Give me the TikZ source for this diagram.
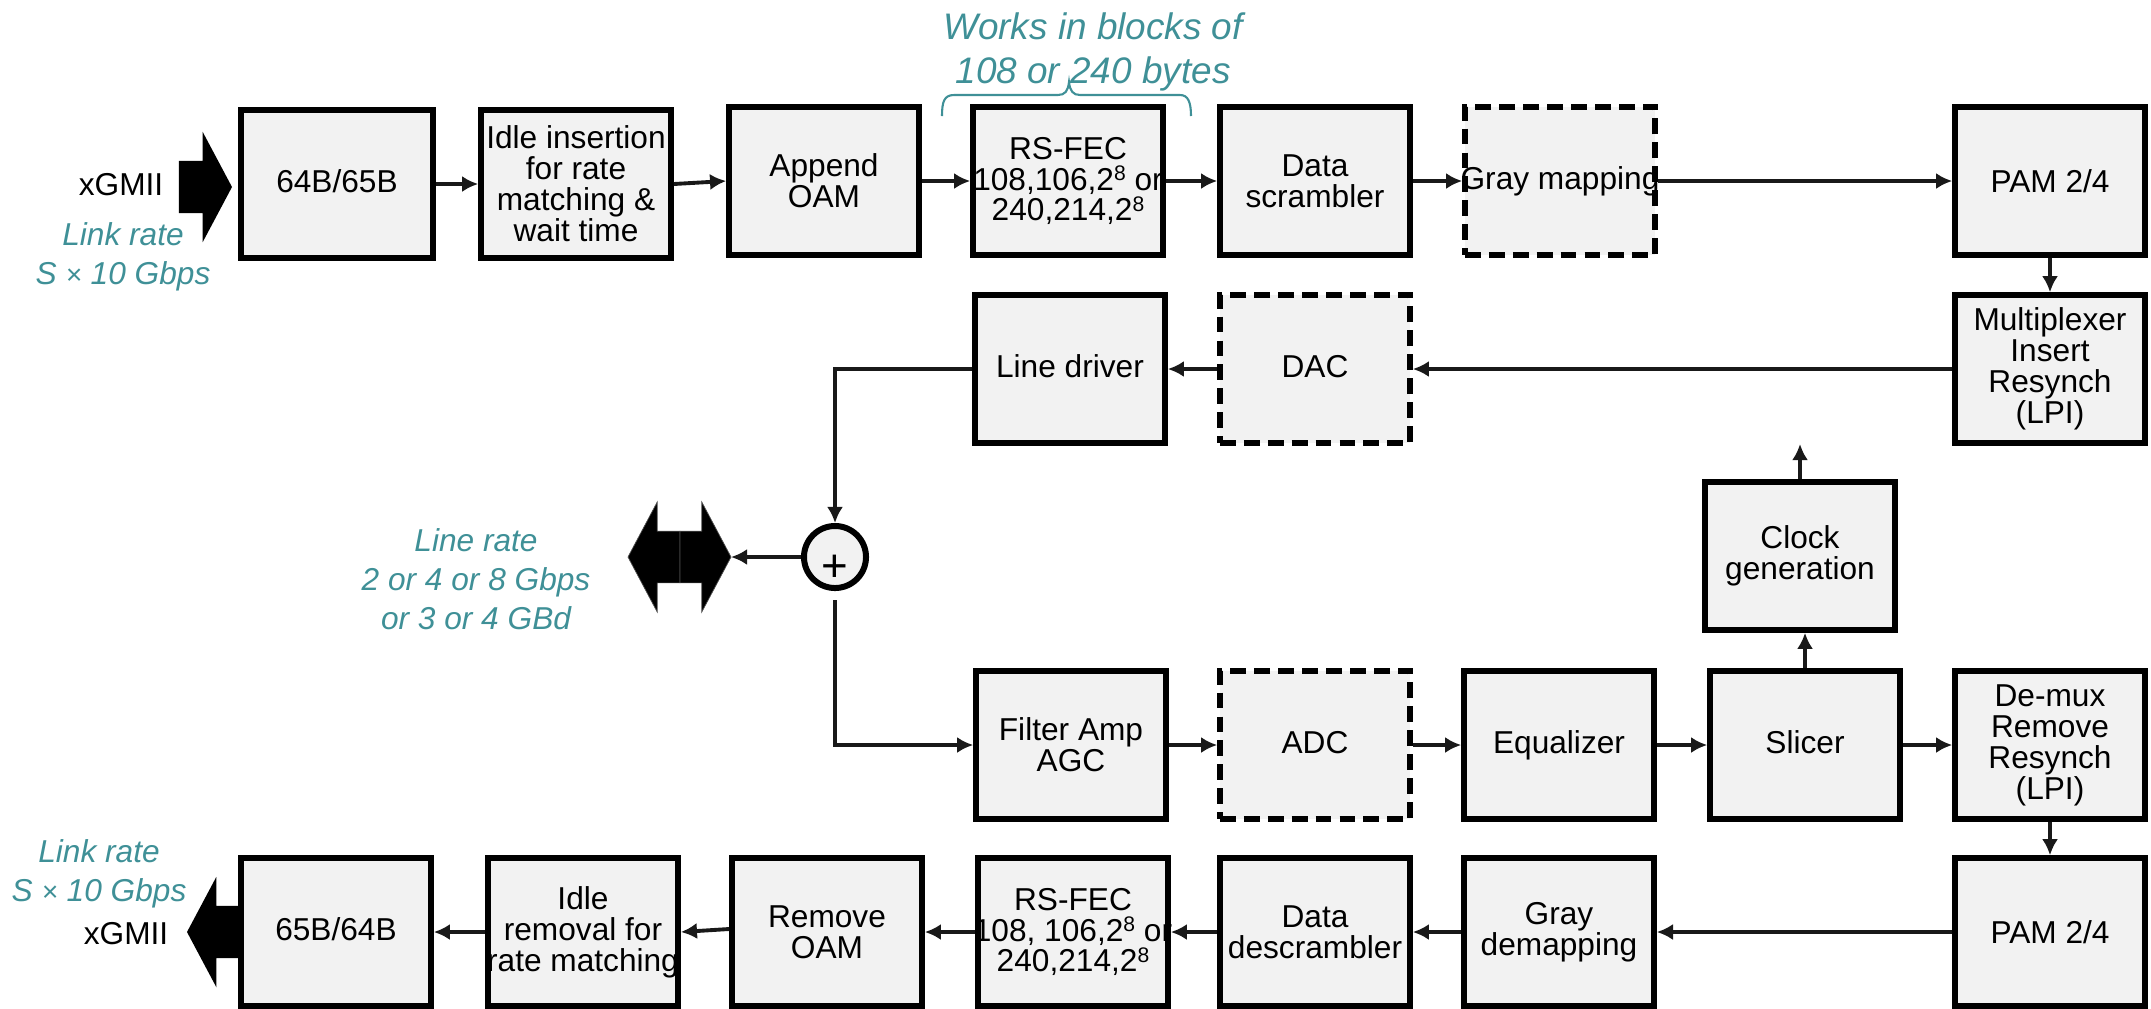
\documentclass[tikz,border=0pt]{standalone}
\usepackage{fontspec}
\setmainfont{Liberation Sans}
\usepackage{tikz}
\usetikzlibrary{arrows.meta,shapes.arrows}
\definecolor{boxgray}{HTML}{F2F2F2}
\definecolor{rateteal}{HTML}{3F9097}
\newcommand{\pwr}[1]{{\fontsize{6}{6}\selectfont\raisebox{2.6pt}{#1}}}
\newcommand{\overrun}[1]{\makebox[0pt]{#1}}

\begin{document}
\begin{tikzpicture}[
  x=0.01cm, y=-0.01cm,
  blockbox/.style={rectangle, draw=black, fill=boxgray, line width=0.055cm, minimum width=1.90cm, minimum height=1.48cm, inner sep=0pt, align=center, font=\fontsize{9}{8.8}\selectfont},
  dashbox/.style={blockbox, dash pattern=on 4.5pt off 2.3pt},
  uptext/.style={text depth=1.6pt},
  conn/.style={draw=black!90, line width=1.1pt, -{Latex[length=4.6pt,width=4.6pt]}},
  plainlabel/.style={inner sep=0pt, align=center, font=\fontsize{9}{8.8}\selectfont},
  ratelabel/.style={inner sep=0pt, align=center, text=rateteal, font=\fontsize{9}{11}\selectfont\itshape},
  bigarrow/.style={single arrow, fill=black, inner sep=0pt, outer sep=0pt, text height=0.51cm, text depth=0pt, single arrow head extend=0.29cm, single arrow tip angle=124}
]
\useasboundingbox (0,0) rectangle (2151,1008);

% transmit path
\node[blockbox, uptext, minimum width=1.92cm] (encbox) at (337,184) {64B/65B};
\node[blockbox] (idleins) at (576,184) {Idle insertion\\for rate\\matching \&\\wait time};
\node[blockbox] (appendoam) at (824,181) {Append\\OAM};
\node[blockbox] (rsenc) at (1068,181) {RS-FEC\\\overrun{108,106,2\pwr{8} or}\\240,214,2\pwr{8}};
\node[blockbox] (scrambler) at (1315,181) {Data\\scrambler};
\node[dashbox] (graymap) at (1560,181) {\overrun{Gray mapping}};
\node[blockbox] (pamtx) at (2050,181) {PAM 2/4};
\node[blockbox] (muxbox) at (2050,369) {Multiplexer\\Insert\\Resynch\\(LPI)};
\node[dashbox, uptext] (dacbox) at (1315,369) {DAC};
\node[blockbox, uptext] (linedrv) at (1070,369) {Line driver};

% hybrid
\node[circle, draw=black, fill=boxgray, line width=0.06cm, minimum size=0.62cm, inner sep=0pt, font=\fontsize{13}{13}\selectfont] (plusnode) at (835,557) {\raisebox{-6.9pt}[0pt][0pt]{+}};
\coordinate (rxstart) at (835,600);
\coordinate (clockout) at (1800,444);

% receive path
\node[blockbox] (clockgen) at (1800,556) {Clock\\generation};
\node[blockbox] (filteramp) at (1071,745) {Filter Amp\\AGC};
\node[dashbox, uptext] (adcbox) at (1315,745) {ADC};
\node[blockbox] (equalizer) at (1559,745) {Equalizer};
\node[blockbox, uptext] (slicer) at (1805,745) {Slicer};
\node[blockbox] (demux) at (2050,745) {De-mux\\Remove\\Resynch\\(LPI)};
\node[blockbox] (pamrx) at (2050,932) {PAM 2/4};
\node[blockbox] (graydemap) at (1559,932) {Gray\\demapping};
\node[blockbox] (descrambler) at (1315,932) {Data\\descrambler};
\node[blockbox] (rsdec) at (1073,932) {RS-FEC\\\overrun{108, 106,2\pwr{8} or}\\240,214,2\pwr{8}};
\node[blockbox] (removeoam) at (827,932) {Remove\\OAM};
\node[blockbox] (idlerem) at (583,932) {Idle\\removal for\\\overrun{rate matching}};
\node[blockbox, uptext] (decbox) at (336,932) {65B/64B};

% block arrows
\node[bigarrow, minimum height=0.53cm, anchor=tip] (gmiiin) at (232,187) {};
\node[bigarrow, minimum height=0.52cm, shape border rotate=180, anchor=tip, draw=black!70, line width=0.2pt] (lineleft) at (628,557) {};
\node[bigarrow, minimum height=0.51cm, anchor=tip, draw=black!70, line width=0.2pt] (lineright) at (731,557) {};
\node[bigarrow, minimum height=0.51cm, shape border rotate=180, anchor=tip] (gmiiout) at (187,932) {};

% labels
\node[plainlabel] (gmiitop) at (121,185) {xGMII};
\node[plainlabel] (gmiibot) at (126,934) {xGMII};
\node[ratelabel] (linktop) at (123,257) {Link rate\\S {\fontsize{8}{8}\selectfont×} 10 Gbps};
\node[ratelabel] (linkbot) at (99,874) {Link rate\\S {\fontsize{8}{8}\selectfont×} 10 Gbps};
\node[ratelabel] (linerate) at (476,579) {Line rate\\2 or 4 or 8 Gbps\\or 3 or 4 GBd};
\node[ratelabel, font=\fontsize{10.5}{12.5}\selectfont\itshape] (blocklabel) at (1093,52) {Works in blocks of\\108 or 240 bytes};

\draw[rateteal, line width=0.6pt] (942,116) .. controls (942,102) and (944,95) .. (954,95) -- (1058,95) .. controls (1065,95) and (1068,91) .. (1069,82) .. controls (1070,91) and (1073,95) .. (1080,95) -- (1180,95) .. controls (1188,95) and (1191,102) .. (1191,116);

% connectors
\draw[conn] (encbox.east) -- (idleins.west);
\draw[conn] (idleins.east) -- (appendoam.west);
\draw[conn] (appendoam.east) -- (rsenc.west);
\draw[conn] (rsenc.east) -- (scrambler.west);
\draw[conn] (scrambler.east) -- (graymap.west);
\draw[conn] (graymap.east) -- (pamtx.west);
\draw[conn] (pamtx.south) -- (muxbox.north);
\draw[conn] (muxbox.west) -- (dacbox.east);
\draw[conn] (dacbox.west) -- (linedrv.east);
\draw[conn] (linedrv.west) -| (plusnode.north);
\draw[conn] (plusnode.west) -- (lineright.tip);
\draw[conn] (rxstart) |- (filteramp.west);
\draw[conn] (filteramp.east) -- (adcbox.west);
\draw[conn] (adcbox.east) -- (equalizer.west);
\draw[conn] (equalizer.east) -- (slicer.west);
\draw[conn] (slicer.east) -- (demux.west);
\draw[conn] (slicer.north) -- (slicer.north |- clockgen.south);
\draw[conn] (clockgen.north) -- (clockout);
\draw[conn] (demux.south) -- (pamrx.north);
\draw[conn] (pamrx.west) -- (graydemap.east);
\draw[conn] (graydemap.west) -- (descrambler.east);
\draw[conn] (descrambler.west) -- (rsdec.east);
\draw[conn] (rsdec.west) -- (removeoam.east);
\draw[conn] ([yshift=0.03cm]removeoam.west) -- (idlerem.east);
\draw[conn] (idlerem.west) -- (decbox.east);
\end{tikzpicture}
\end{document}
